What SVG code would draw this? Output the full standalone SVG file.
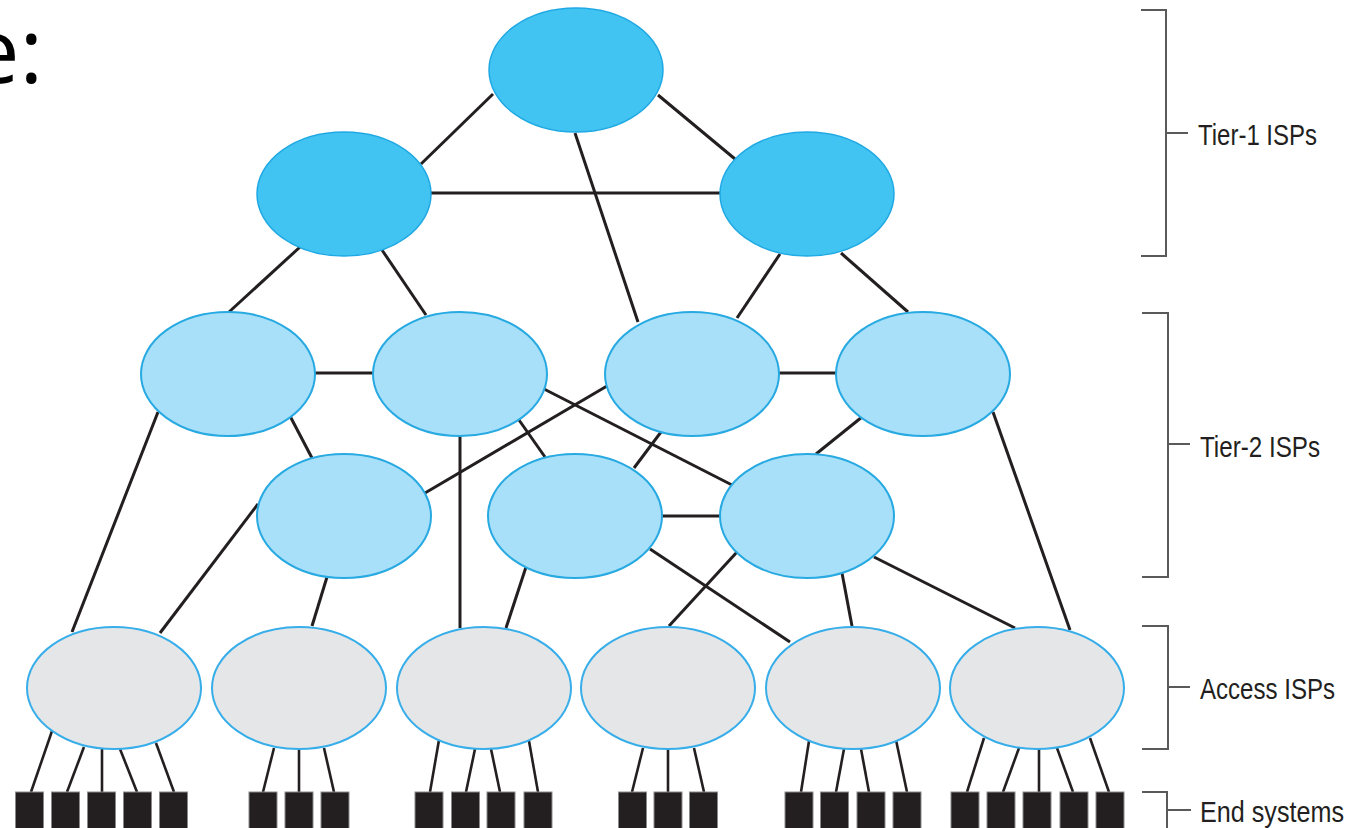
<svg xmlns="http://www.w3.org/2000/svg" width="1355" height="828" viewBox="0 0 1355 828">
<style>
.t1{fill:#42C4F3;stroke:#1FA9E4;stroke-width:1.5}
.t2{fill:#A8DFF9;stroke:#27A9E1;stroke-width:2}
.ac{fill:#E5E6E8;stroke:#37AEEA;stroke-width:2}
.es{fill:#231F20;stroke:#8a8a8a;stroke-width:1}
.ln{stroke:#231F20;stroke-width:3;fill:none;stroke-linecap:butt}
.el{stroke:#231F20;stroke-width:2.6;fill:none}
.br{stroke:#5a5a5a;stroke-width:2;fill:none}
.lb{font-family:"Liberation Sans Narrow","Liberation Sans",Arial,sans-serif;font-size:30px;fill:#231F20}
</style>
<rect width="1355" height="828" fill="#fff"/>
<text x="-31" y="83" font-family="'Open Sans','Liberation Sans',sans-serif" font-size="90" fill="#000">e:</text>
<g id="connectors">
  <!-- tier-1 -->
  <line class="ln" x1="493" y1="94" x2="421" y2="164"/>
  <line class="ln" x1="658" y1="95" x2="735" y2="159"/>
  <line class="ln" x1="431" y1="193" x2="720" y2="193"/>
  <line class="ln" x1="575" y1="133" x2="638" y2="322"/>
  <line class="ln" x1="300" y1="247" x2="229" y2="312"/>
  <line class="ln" x1="382" y1="250" x2="426" y2="315"/>
  <line class="ln" x1="780" y1="254" x2="737" y2="318"/>
  <line class="ln" x1="841" y1="253" x2="908" y2="312"/>
  <!-- tier-2 row 1 -->
  <line class="ln" x1="315" y1="373" x2="373" y2="373"/>
  <line class="ln" x1="779" y1="373" x2="836" y2="373"/>
  <line class="ln" x1="290" y1="416" x2="312" y2="458"/>
  <line class="ln" x1="158" y1="412" x2="72" y2="632"/>
  <line class="ln" x1="460" y1="435" x2="460" y2="628"/>
  <line class="ln" x1="519" y1="420" x2="545" y2="457"/>
  <line class="ln" x1="544" y1="389" x2="732" y2="485"/>
  <line class="ln" x1="607" y1="386" x2="425" y2="493"/>
  <line class="ln" x1="661" y1="432" x2="634" y2="468"/>
  <line class="ln" x1="862" y1="417" x2="816" y2="454"/>
  <line class="ln" x1="993" y1="412" x2="1070" y2="630"/>
  <!-- tier-2 row 2 -->
  <line class="ln" x1="258" y1="504" x2="160" y2="633"/>
  <line class="ln" x1="327" y1="577" x2="312" y2="626"/>
  <line class="ln" x1="662" y1="516" x2="720" y2="516"/>
  <line class="ln" x1="526" y1="567" x2="506" y2="628"/>
  <line class="ln" x1="650" y1="549" x2="790" y2="642"/>
  <line class="ln" x1="737" y1="552" x2="669" y2="626"/>
  <line class="ln" x1="842" y1="573" x2="852" y2="626"/>
  <line class="ln" x1="874" y1="557" x2="1015" y2="628"/>
  <!-- end systems -->
  <line class="el" x1="52" y1="731" x2="31" y2="792"/>
  <line class="el" x1="84" y1="747" x2="67" y2="792"/>
  <line class="el" x1="102" y1="749" x2="102" y2="792"/>
  <line class="el" x1="120" y1="749" x2="137" y2="792"/>
  <line class="el" x1="156" y1="743" x2="174" y2="792"/>
  <line class="el" x1="274" y1="748" x2="263" y2="792"/>
  <line class="el" x1="299" y1="749" x2="299" y2="792"/>
  <line class="el" x1="324" y1="748" x2="334" y2="792"/>
  <line class="el" x1="439" y1="740" x2="430" y2="792"/>
  <line class="el" x1="475" y1="749" x2="466" y2="792"/>
  <line class="el" x1="491" y1="749" x2="500" y2="792"/>
  <line class="el" x1="529" y1="741" x2="538" y2="792"/>
  <line class="el" x1="643" y1="748" x2="632" y2="792"/>
  <line class="el" x1="668" y1="749" x2="668" y2="792"/>
  <line class="el" x1="694" y1="748" x2="704" y2="792"/>
  <line class="el" x1="809" y1="741" x2="801" y2="792"/>
  <line class="el" x1="844" y1="749" x2="836" y2="792"/>
  <line class="el" x1="861" y1="749" x2="869" y2="792"/>
  <line class="el" x1="896" y1="740" x2="907" y2="792"/>
  <line class="el" x1="984" y1="738" x2="967" y2="792"/>
  <line class="el" x1="1019" y1="748" x2="1003" y2="792"/>
  <line class="el" x1="1039" y1="749" x2="1039" y2="792"/>
  <line class="el" x1="1057" y1="748" x2="1073" y2="792"/>
  <line class="el" x1="1090" y1="738" x2="1109" y2="792"/>
</g>
<g id="tier1-top"><ellipse class="t1" cx="576" cy="70" rx="87" ry="62"/></g>
<g id="tier1-left"><ellipse class="t1" cx="344" cy="194" rx="87" ry="62"/></g>
<g id="tier1-right"><ellipse class="t1" cx="807" cy="194" rx="87" ry="62"/></g>
<g id="tier2-a"><ellipse class="t2" cx="228" cy="374" rx="87" ry="62"/></g>
<g id="tier2-b"><ellipse class="t2" cx="460" cy="374" rx="87" ry="62"/></g>
<g id="tier2-c"><ellipse class="t2" cx="692" cy="374" rx="87" ry="62"/></g>
<g id="tier2-d"><ellipse class="t2" cx="923" cy="374" rx="87" ry="62"/></g>
<g id="tier2-e"><ellipse class="t2" cx="344" cy="516" rx="87" ry="62"/></g>
<g id="tier2-f"><ellipse class="t2" cx="575" cy="516" rx="87" ry="62"/></g>
<g id="tier2-g"><ellipse class="t2" cx="807" cy="516" rx="87" ry="62"/></g>
<g id="access-1"><ellipse class="ac" cx="114" cy="688" rx="87" ry="61"/></g>
<g id="access-2"><ellipse class="ac" cx="299" cy="688" rx="87" ry="61"/></g>
<g id="access-3"><ellipse class="ac" cx="484" cy="688" rx="87" ry="61"/></g>
<g id="access-4"><ellipse class="ac" cx="668" cy="688" rx="87" ry="61"/></g>
<g id="access-5"><ellipse class="ac" cx="853" cy="688" rx="87" ry="61"/></g>
<g id="access-6"><ellipse class="ac" cx="1037" cy="688" rx="87" ry="61"/></g>
<g id="end-systems">
  <rect class="es" x="15.5" y="792" width="28" height="40"/>
  <rect class="es" x="51.5" y="792" width="28" height="40"/>
  <rect class="es" x="87.5" y="792" width="28" height="40"/>
  <rect class="es" x="123.5" y="792" width="28" height="40"/>
  <rect class="es" x="159.5" y="792" width="28" height="40"/>
  <rect class="es" x="249" y="792" width="28" height="40"/>
  <rect class="es" x="285" y="792" width="28" height="40"/>
  <rect class="es" x="321" y="792" width="28" height="40"/>
  <rect class="es" x="415" y="792" width="28" height="40"/>
  <rect class="es" x="451.5" y="792" width="28" height="40"/>
  <rect class="es" x="487" y="792" width="28" height="40"/>
  <rect class="es" x="524" y="792" width="28" height="40"/>
  <rect class="es" x="618.5" y="792" width="28" height="40"/>
  <rect class="es" x="654" y="792" width="28" height="40"/>
  <rect class="es" x="689.5" y="792" width="28" height="40"/>
  <rect class="es" x="785" y="792" width="28" height="40"/>
  <rect class="es" x="820.5" y="792" width="28" height="40"/>
  <rect class="es" x="857" y="792" width="28" height="40"/>
  <rect class="es" x="893" y="792" width="28" height="40"/>
  <rect class="es" x="951" y="792" width="28" height="40"/>
  <rect class="es" x="987" y="792" width="28" height="40"/>
  <rect class="es" x="1023" y="792" width="28" height="40"/>
  <rect class="es" x="1060" y="792" width="28" height="40"/>
  <rect class="es" x="1096" y="792" width="28" height="40"/>
</g>
<g id="legend">
  <path class="br" d="M1141 10 H1166 V256 H1141 M1166 133 H1188"/>
  <text class="lb" x="1198" y="145" textLength="119" lengthAdjust="spacingAndGlyphs">Tier-1 ISPs</text>
  <path class="br" d="M1142 313 H1168 V577 H1142 M1168 444 H1190"/>
  <text class="lb" x="1200" y="457" textLength="120" lengthAdjust="spacingAndGlyphs">Tier-2 ISPs</text>
  <path class="br" d="M1142 626 H1168 V749 H1142 M1168 687 H1190"/>
  <text class="lb" x="1200" y="699" textLength="135" lengthAdjust="spacingAndGlyphs">Access ISPs</text>
  <path class="br" d="M1142 792 H1167 V830 M1167 810 H1191"/>
  <text class="lb" x="1200" y="822" textLength="144" lengthAdjust="spacingAndGlyphs">End systems</text>
</g>
</svg>
